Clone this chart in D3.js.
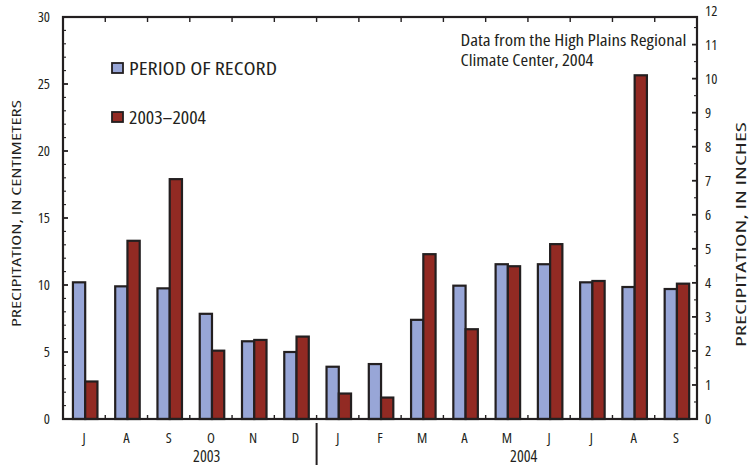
<!DOCTYPE html>
<html>
<head>
<meta charset="utf-8">
<script src="https://cdn.jsdelivr.net/npm/d3@7"></script>
<style>
  html, body { margin: 0; padding: 0; background: #fff; }
  svg text { font-family: "Open Sans", sans-serif; font-stretch: 75%; fill: #231f20; }
</style>
</head>
<body>
<svg id="chart" width="750" height="466"></svg>
<script>
// Monthly precipitation, July 2003 – September 2004 (centimeters)
const months = ["J", "A", "S", "O", "N", "D", "J", "F", "M", "A", "M", "J", "J", "A", "S"];
const periodOfRecord = [10.2, 9.9, 9.75, 7.85, 5.8, 5.0, 3.9, 4.1, 7.4, 9.95, 11.55, 11.55, 10.2, 9.85, 9.7];
const season0304 = [2.8, 13.3, 17.9, 5.1, 5.9, 6.15, 1.9, 1.6, 12.3, 6.7, 11.4, 13.05, 10.3, 25.65, 10.1];
const seriesNames = ["PERIOD OF RECORD", "2003–2004"];
const seriesColors = ["#98a6d7", "#922a23"];
const years = ["2003", "2004"];
const yearPos = [3.4, 10.9];          // position along the month axis, in month units
const cmTicks = [0, 5, 10, 15, 20, 25, 30];
const inchTicks = [0, 1, 2, 3, 4, 5, 6, 7, 8, 9, 10, 11, 12];
const noteLines = ["Data from the High Plains Regional", "Climate Center, 2004"];

const ink = "#231f20";
const svg = d3.select("#chart");
const plotL = 63, plotR = 697, plotT = 17, plotB = 419;

const x = d3.scaleBand().domain(d3.range(months.length)).range([plotL, plotR]).padding(0);
const xi = d3.scaleLinear().domain([0, months.length]).range([plotL, plotR]);
const xs = d3.scaleBand().domain([0, 1]).range([x.bandwidth() * 0.235, x.bandwidth() * 0.815]).padding(0);
const y = d3.scaleLinear().domain([0, 30]).range([plotB, plotT]);
const yIn = d3.scaleLinear().domain([0, 30 / 2.54]).range([plotB, plotT]);

// bars
const g = svg.append("g");
const groups = g.selectAll("g.month").data(months.map((m, i) => i)).join("g")
  .attr("transform", i => `translate(${x(i)},0)`);
[periodOfRecord, season0304].forEach((vals, s) => {
  groups.append("rect")
    .attr("x", i => xs(s))
    .attr("width", xs.bandwidth())
    .attr("y", i => y(vals[i]))
    .attr("height", i => y(0) - y(vals[i]))
    .attr("fill", seriesColors[s])
    .attr("stroke", ink)
    .attr("stroke-width", 2.2);
});

// frame
svg.append("rect").attr("x", plotL).attr("y", plotT).attr("width", plotR - plotL).attr("height", plotB - plotT)
  .attr("fill", "none").attr("stroke", ink).attr("stroke-width", 2.2);

// left axis (cm), ticks pointing inward
const cmMinor = d3.range(0, 31, 1);
svg.append("g").selectAll("line").data(cmMinor).join("line")
  .attr("x1", plotL).attr("x2", d => plotL + (d % 5 === 0 ? 5 : 3))
  .attr("y1", d => y(d)).attr("y2", d => y(d))
  .attr("stroke", ink).attr("stroke-width", d => d % 5 === 0 ? 1.8 : 1.1);
svg.append("g").selectAll("text").data(cmTicks).join("text")
  .attr("x", plotL - 13).attr("y", d => y(d)).attr("dy", "0.36em")
  .attr("text-anchor", "end").attr("font-size", 14.5).text(d => d);

// right axis (inches), ticks pointing inward
const inMinor = d3.range(0, 12, 0.5).filter(d => yIn(d) >= plotT + 1);
svg.append("g").selectAll("line").data(inMinor).join("line")
  .attr("x1", plotR).attr("x2", d => plotR - (d % 1 === 0 ? 5 : 3))
  .attr("y1", d => yIn(d)).attr("y2", d => yIn(d))
  .attr("stroke", ink).attr("stroke-width", d => d % 1 === 0 ? 1.8 : 1.1);
svg.append("g").selectAll("text").data(inchTicks).join("text")
  .attr("x", plotR + 8).attr("y", d => yIn(d)).attr("dy", "0.36em")
  .attr("text-anchor", "start").attr("font-size", 14.5).text(d => d);

// month boundary ticks on top and bottom
const bounds = d3.range(1, months.length);
svg.append("g").selectAll("line").data(bounds).join("line")
  .attr("x1", d => xi(d)).attr("x2", d => xi(d)).attr("y1", plotT).attr("y2", plotT + 5)
  .attr("stroke", ink).attr("stroke-width", 1.4);
svg.append("g").selectAll("line").data(bounds).join("line")
  .attr("x1", d => xi(d)).attr("x2", d => xi(d)).attr("y1", plotB).attr("y2", plotB - 4)
  .attr("stroke", ink).attr("stroke-width", 1.4);

// month labels
svg.append("g").selectAll("text").data(months).join("text")
  .attr("x", (m, i) => x(i) + x.bandwidth() / 2).attr("y", 443)
  .attr("text-anchor", "middle").attr("font-size", 14.5).text(m => m);

// year labels and the year divider
svg.append("g").selectAll("text").data(years).join("text")
  .attr("x", (d, i) => xi(yearPos[i])).attr("y", 462)
  .attr("text-anchor", "middle").attr("font-size", 16).text(d => d);
svg.append("line").attr("x1", xi(6)).attr("x2", xi(6)).attr("y1", 423).attr("y2", 465)
  .attr("stroke", ink).attr("stroke-width", 2);

// axis titles
svg.append("text").attr("transform", "translate(20.5,213.5) rotate(-90)")
  .attr("text-anchor", "middle").attr("font-size", 13)
  .attr("textLength", 227).attr("lengthAdjust", "spacingAndGlyphs")
  .text("PRECIPITATION, IN CENTIMETERS");
svg.append("text").attr("transform", "translate(746,234.5) rotate(-90)")
  .attr("text-anchor", "middle").attr("font-size", 13.5)
  .attr("textLength", 225).attr("lengthAdjust", "spacingAndGlyphs")
  .text("PRECIPITATION, IN INCHES");

// legend
const legendWidths = [148, 77];
const legend = svg.append("g").selectAll("g").data(seriesNames).join("g")
  .attr("transform", (d, i) => `translate(112,${63 + i * 49})`);
legend.append("rect").attr("width", 11).attr("height", 10)
  .attr("fill", (d, i) => seriesColors[i]).attr("stroke", ink).attr("stroke-width", 1.8);
legend.append("text").attr("x", 17).attr("y", 11.5).attr("font-size", 18)
  .attr("textLength", (d, i) => legendWidths[i]).attr("lengthAdjust", "spacingAndGlyphs")
  .text(d => d);

// source note
const noteWidths = [226, 133];
svg.append("g").selectAll("text").data(noteLines).join("text")
  .attr("x", 460.5).attr("y", (d, i) => 45.5 + i * 20).attr("font-size", 15.8)
  .attr("textLength", (d, i) => noteWidths[i]).attr("lengthAdjust", "spacingAndGlyphs")
  .text(d => d);
</script>
</body>
</html>
